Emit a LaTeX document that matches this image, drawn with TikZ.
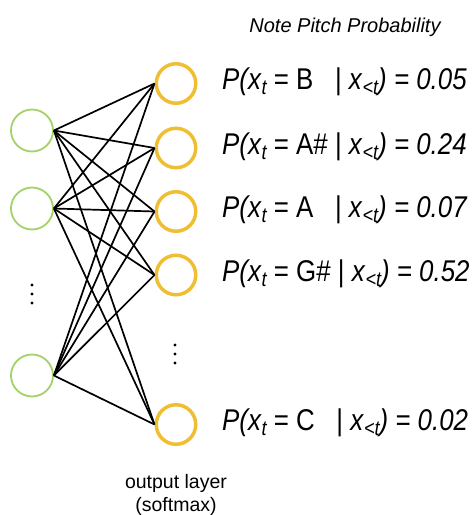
\documentclass[tikz,border=0pt]{standalone}
\usepackage{fontspec}
\setmainfont{Liberation Sans}
\definecolor{ingreen}{RGB}{163,210,105}
\definecolor{outorange}{RGB}{240,190,50}
\newcommand\sbs[1]{\raisebox{-5pt}{\fontsize{21}{21}\selectfont\itshape #1}}
\newcommand\eqn[2]{\scalebox{0.862}[1]{\fontsize{30}{30}\selectfont\textit{P(x}\sbs{t} = #1| \textit{x}\sbs{<t}\textit{) = #2}}}
\begin{document}
\begin{tikzpicture}[x=1pt,y=-1pt,
  innode/.style={circle, draw=ingreen, line width=1.8pt, minimum size=42pt, inner sep=0pt},
  outnode/.style={circle, draw=outorange, line width=3.5pt, minimum size=39.5pt, inner sep=0pt},
  conn/.style={line width=1.7pt, black},
  eqlabel/.style={anchor=base west, inner sep=0pt},
  dotmark/.style={circle, fill=black, inner sep=0pt, minimum size=3.4pt}]
\useasboundingbox (0,0) rectangle (475,515);
\node[innode] (in1) at (32,130.5) {};
\node[innode] (in2) at (32,208.5) {};
\node[innode] (in3) at (32,375.5) {};
\node[outnode] (out1) at (176,83.5) {};
\node[outnode] (out2) at (176,148) {};
\node[outnode] (out3) at (176,211.5) {};
\node[outnode] (out4) at (176,275) {};
\node[outnode] (out5) at (176,424.5) {};
\foreach \i in {1,2,3}{
  \foreach \j in {1,...,5}{
    \draw[conn] (in\i.east) -- (out\j.west);
  }
}
\node[dotmark] (id1) at (32,285) {};
\node[dotmark] (id2) at (32,294) {};
\node[dotmark] (id3) at (32,303) {};
\node[dotmark] (od1) at (175,345) {};
\node[dotmark] (od2) at (175,354) {};
\node[dotmark] (od3) at (175,363) {};
\node[anchor=base, inner sep=0pt, font=\fontsize{20}{20}\selectfont\itshape] (title) at (345,32) {Note Pitch Probability};
\node[eqlabel] (e1) at (222,89.5) {\eqn{B\ \ \ }{0.05}};
\node[eqlabel] (e2) at (222,154) {\eqn{A\#\ }{0.24}};
\node[eqlabel] (e3) at (222,217.5) {\eqn{A\ \ \ }{0.07}};
\node[eqlabel] (e4) at (222,281) {\eqn{G\#\ }{0.52}};
\node[eqlabel] (e5) at (222,430.5) {\eqn{C\ \ \ }{0.02}};
\node[anchor=base, inner sep=0pt, font=\fontsize{19.5}{19.5}\selectfont] (ol1) at (176,488) {output layer};
\node[anchor=base, inner sep=0pt, font=\fontsize{19.5}{19.5}\selectfont] (ol2) at (176,511) {(softmax)};
\end{tikzpicture}
\end{document}
